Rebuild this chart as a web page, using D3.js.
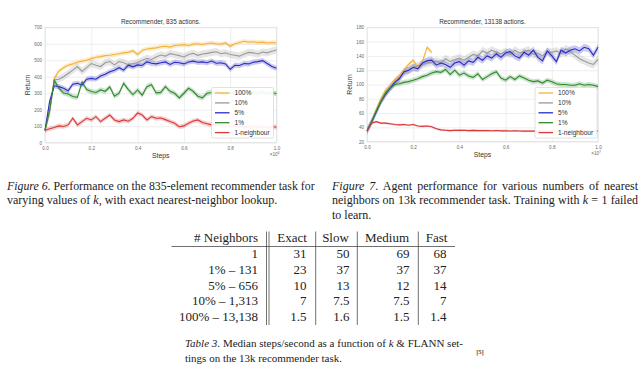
<!DOCTYPE html>
<html><head><meta charset="utf-8">
<script src="https://cdn.jsdelivr.net/npm/d3@7/dist/d3.min.js"></script>
<style>body{margin:0;background:#fff} svg{display:block}
.serif{font-family:"Liberation Serif","Times New Roman","DejaVu Serif","Noto Serif",serif}</style>
</head><body>
<svg id="c" width="640" height="381"></svg>
<script>
// ---------- DATA ----------
const steps = [0,0.02,0.04,0.06,0.08,0.10,0.12,0.14,0.16,0.18,0.20,0.22,0.24,0.26,0.28,0.30,0.32,0.34,0.36,0.38,0.40,0.42,0.44,0.46,0.48,0.50,0.52,0.54,0.56,0.58,0.60,0.62,0.64,0.66,0.68,0.70,0.72,0.74,0.76,0.78,0.80,0.82,0.84,0.86,0.88,0.90,0.92,0.94,0.96,0.98,1.00];
const seriesNames = ["100%","10%","5%","1%","1-neighbour"];
const seriesColors = ["#f2b33d","#9a9a9a","#2b2bc4","#2f8a2f","#d93a3a"];

// Figure 6: 835 actions
const r835_100 = [75,200,390,435,455,470,478,488,495,500,510,518,522,528,530,535,540,545,548,558,535,560,568,572,575,582,585,580,590,592,595,590,598,600,596,602,605,600,598,605,585,600,608,615,610,612,608,610,605,608,605];
const r835_10  = [75,180,380,385,400,420,440,462,432,455,480,470,462,485,492,472,492,485,472,480,486,500,512,505,520,532,525,540,535,528,520,535,542,530,538,542,548,552,540,545,535,530,525,538,548,545,538,550,545,555,562];
const r835_5   = [75,250,345,340,330,315,355,360,350,385,390,385,405,415,430,440,455,440,470,460,472,468,490,482,478,485,490,475,488,485,478,490,495,488,490,485,495,482,485,478,445,470,468,480,478,488,492,498,480,462,452];
const r835_1   = [75,200,378,330,302,295,280,275,368,322,310,305,320,312,338,282,300,360,322,292,320,288,340,352,302,305,340,312,300,272,300,330,312,282,272,300,305,315,300,295,305,298,310,302,295,305,300,308,300,302,298];
const r835_1n  = [75,85,92,102,98,108,148,108,128,148,138,158,128,148,168,138,128,138,130,148,180,168,138,158,148,150,140,128,118,97,102,118,132,138,122,115,108,110,105,100,102,98,100,96,98,95,97,96,94,96,95];
const spread835 = [14,22,16,16,14];

// Figure 7: 13138 actions
const r13k_100 = [35,48,65,80,92,98,106,112,120,128,134,124,132,152,145];
const r13k_10  = [35,47,62,77,88,96,103,110,116,120,124,126,128,130,131,133,130,136,132,135,137,134,138,142,140,147,144,148,145,143,146,142,148,144,146,148,142,144,140,146,145,147,143,150,146,141,136,133,130,128,135];
const r13k_5   = [35,48,62,76,86,95,103,108,118,120,124,122,130,133,134,127,130,128,124,130,132,127,133,131,138,134,140,137,143,138,144,146,140,137,145,141,148,138,133,147,140,132,148,144,148,150,147,152,150,141,152];
const r13k_1   = [35,48,63,76,88,95,100,101,103,104,106,108,111,113,116,118,117,121,114,120,113,116,112,110,115,107,111,115,118,109,106,111,107,112,109,106,104,105,102,106,104,101,100,100,99,99,101,99,100,99,97];
const r13k_1n  = [35,46,48,46,46,45,44,43.5,44,43,44,42,41.5,42,41,38,36.5,36,35.5,36,35.8,36,35.5,35.8,35.5,35.7,35.5,35.3,35.6,35.2,35.4,35,35.2,35,34.8,35,34.8,35,34.8,35,34.8,35,34.9,35,34.8,35,34.9,35,34.8,35,35];
const spread13k = [3,5.5,5,3.5,1.5];

const xTickLabels = ["0.0","0.2","0.4","0.6","0.8","1.0"];
const xTickValues = [0,0.2,0.4,0.6,0.8,1.0];
const yTicks835 = [0,100,200,300,400,500,600,700];
const yTicks13k = [20,40,60,80,100,120,140,160,180];

const tableHeader = ["# Neighbors","Exact","Slow","Medium","Fast"];
const tableRows = [
  ["1","31","50","69","68"],
  ["1% \u2013 131","23","37","37","37"],
  ["5% \u2013 656","10","13","12","14"],
  ["10% \u2013 1,313","7","7.5","7.5","7"],
  ["100% \u2013 13,138","1.5","1.6","1.5","1.4"]
];

// ---------- DRAW ----------
const svg = d3.select("#c");
const sans = "'Liberation Sans', 'DejaVu Sans', sans-serif";

function chart(opts){
  const {x0,x1,yTop,yBot,yDomain,yTicks,title,series,spread,mult,legendBox} = opts;
  const g = svg.append("g");
  const x = d3.scaleLinear().domain([0,1]).range([x0,x1]);
  const y = d3.scaleLinear().domain(yDomain).range([yBot,yTop]);
  g.append("rect").attr("x",x0).attr("y",yTop).attr("width",x1-x0).attr("height",yBot-yTop)
    .attr("fill","#fff").attr("stroke","#d8d8d8").attr("stroke-width",0.6);
  const ax = g.append("g").attr("transform",`translate(0,${yBot})`)
    .call(d3.axisBottom(x).tickValues(xTickValues).tickFormat((d,i)=>xTickLabels[i]).tickSize(-(yBot-yTop)).tickPadding(4));
  const ay = g.append("g").attr("transform",`translate(${x0},0)`)
    .call(d3.axisLeft(y).tickValues(yTicks).tickSize(-(x1-x0)).tickPadding(3));
  [ax,ay].forEach(a=>{
    a.select(".domain").remove();
    a.selectAll(".tick line").attr("stroke","#e2e2e2").attr("stroke-width",0.6);
    a.selectAll(".tick text").attr("fill","#666").style("font-size","4.6px").style("font-family",sans);
  });
  series.forEach((vals,i)=>{
    const pts = vals.map((v,j)=>({t:steps[j],v}));
    const area = d3.area().x(d=>x(d.t)).y0(d=>y(d.v-spread[i])).y1(d=>y(d.v+spread[i]));
    g.append("path").attr("d",area(pts)).attr("fill",seriesColors[i]).attr("opacity",0.25);
  });
  series.forEach((vals,i)=>{
    const pts = vals.map((v,j)=>({t:steps[j],v}));
    const line = d3.line().x(d=>x(d.t)).y(d=>y(d.v));
    g.append("path").attr("d",line(pts)).attr("fill","none").attr("stroke",seriesColors[i]).attr("stroke-width",1.1);
  });
  g.append("text").attr("x",(x0+x1)/2).attr("y",yTop-3.5).attr("text-anchor","middle")
    .style("font-family",sans).style("font-size","6.4px").attr("fill","#333").text(title);
  g.append("text").attr("x",(x0+x1)/2).attr("y",yBot+15.5).attr("text-anchor","middle")
    .style("font-family",sans).style("font-size","6.8px").attr("fill","#333").text("Steps");
  g.append("text").attr("transform",`translate(${x0-15.5},${(yTop+yBot)/2}) rotate(-90)`).attr("text-anchor","middle")
    .style("font-family",sans).style("font-size","6.8px").attr("fill","#333").text("Return");
  const m = g.append("text").attr("x",x1+3).attr("y",yBot+13).attr("text-anchor","end")
    .style("font-family",sans).style("font-size","4.6px").attr("fill","#666");
  m.append("tspan").text("\u00d710");
  m.append("tspan").attr("dy",-2).style("font-size","3.6px").text(mult);
  const [lx,ly,lw,lh] = legendBox;
  const lg = g.append("g");
  lg.append("rect").attr("x",lx).attr("y",ly).attr("width",lw).attr("height",lh).attr("rx",1.5)
    .attr("fill","#fff").attr("fill-opacity",0.92).attr("stroke","#cfcfcf").attr("stroke-width",0.6);
  seriesNames.forEach((n,i)=>{
    const yy = ly + 5.5 + i*9.9;
    lg.append("line").attr("x1",lx+3.5).attr("x2",lx+18).attr("y1",yy).attr("y2",yy)
      .attr("stroke",seriesColors[i]).attr("stroke-width",1.3);
    lg.append("text").attr("x",lx+23).attr("y",yy+2.3).style("font-family",sans).style("font-size","6.6px")
      .attr("fill","#333").text(n);
  });
}

chart({x0:45,x1:276.5,yTop:27.3,yBot:142.7,yDomain:[0,700],yTicks:yTicks835,
  title:"Recommender, 835 actions.",series:[r835_100,r835_10,r835_5,r835_1,r835_1n],spread:spread835,mult:"6",
  legendBox:[211.5,87.5,62,50.5]});
chart({x0:367,x1:598,yTop:27.3,yBot:141.7,yDomain:[20,180],yTicks:yTicks13k,
  title:"Recommender, 13138 actions.",series:[r13k_100,r13k_10,r13k_5,r13k_1,r13k_1n],spread:spread13k,mult:"7",
  legendBox:[535,87.5,62,50.5]});

// ---------- CAPTIONS ----------
function capLine(x,y,parts,len,size){
  const s = size||12;
  const t = svg.append("text").attr("class","serif").attr("x",x).attr("y",y)
    .style("font-size",s+"px").attr("fill","#222").attr("xml:space","preserve");
  parts.forEach(p=>t.append("tspan").style("font-style",p[1]?"italic":"normal").text(p[0]));
  if(len){
    const nat = t.node().getComputedTextLength();
    const full = parts.map(p=>p[0]).join("");
    const nsp = (full.match(/ /g)||[]).length;
    if(nat > len){
      t.style("font-size",(s*len/nat)+"px");
    } else if(nsp>0){
      t.style("word-spacing",((len-nat)/nsp)+"px");
    }
  }
  return t;
}
capLine(7,190,[["Figure 6",true],[". Performance on the 835-element recommender task for",false]],308);
capLine(7,203.5,[["varying values of ",false],["k",true],[", with exact nearest-neighbor lookup.",false]],null);
capLine(332,190,[["Figure 7",true],[". Agent performance for various numbers of nearest",false]],306);
capLine(332,203.5,[["neighbors on 13k recommender task. Training with ",false],["k",true],[" = 1 failed",false]],306);
capLine(332,218.5,[["to learn.",false]],null);

// ---------- TABLE ----------
const colRight = [258, 306.5, 349.5, 409.5, 446.5];
const colHeadCenter = [null, 292, 335.5, 387, 436.5];
const tg = svg.append("g").attr("class","serif").style("font-size","13px").attr("fill","#222");
tableHeader.forEach((h,i)=>{
  tg.append("text").attr("x", i===0?colRight[0]:colHeadCenter[i]).attr("y",242)
    .attr("text-anchor", i===0?"end":"middle").text(h);
});
tableRows.forEach((r,ri)=>{
  r.forEach((c,ci)=>{
    tg.append("text").attr("x",colRight[ci]).attr("y",258+ri*15.8).attr("text-anchor","end").text(c);
  });
});
tg.append("line").attr("x1",171.5).attr("x2",455).attr("y1",246.5).attr("y2",246.5).attr("stroke","#333").attr("stroke-width",0.7);
[266.5,269,315.7,357.3,418.3].forEach(xv=>{
  tg.append("line").attr("x1",xv).attr("x2",xv).attr("y1",231.5).attr("y2",325).attr("stroke","#333").attr("stroke-width",0.7);
});

capLine(185,347,[["Table 3",true],[". Median steps/second as a function of ",false],["k",true],[" & FLANN set-",false]],278,11);
capLine(185,362,[["tings on the 13k recommender task.",false]],null,11);
svg.append("text").attr("x",480).attr("y",354).attr("text-anchor","middle").attr("class","serif")
  .style("font-size","6.5px").style("font-weight","bold").attr("fill","#555").text("[5]");
</script>
</body></html>
